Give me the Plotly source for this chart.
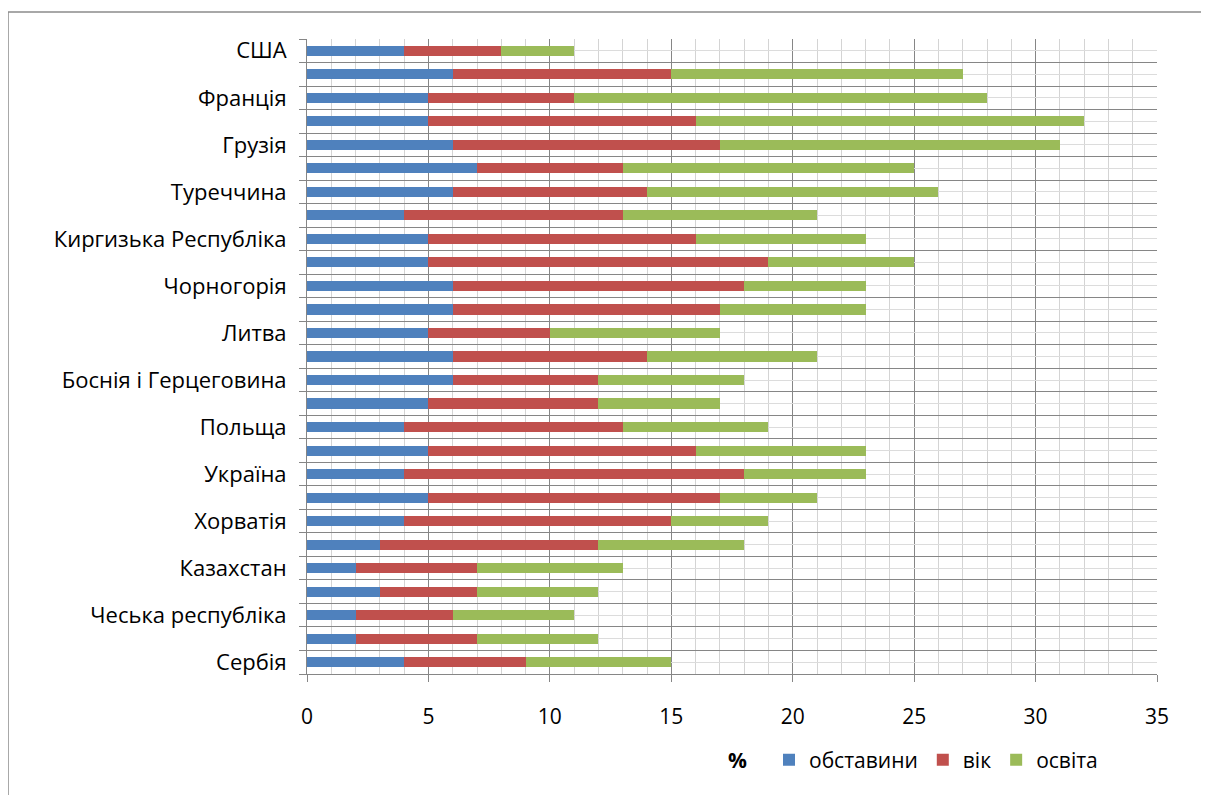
import plotly.graph_objects as go

countries = ["США", "", "Франція", "", "Грузія", "", "Туреччина", "",
             "Киргизька Республіка", "", "Чорногорія", "", "Литва", "",
             "Боснія і Герцеговина", "", "Польща", "", "Україна", "",
             "Хорватія", "", "Казахстан", "", "Чеська республіка", "", "Сербія"]
obstavyny = [4, 6, 5, 5, 6, 7, 6, 4, 5, 5, 6, 6, 5, 6, 6, 5, 4, 5, 4, 5, 4, 3, 2, 3, 2, 2, 4]
vik = [4, 9, 6, 11, 11, 6, 8, 9, 11, 14, 12, 11, 5, 8, 6, 7, 9, 11, 14, 12, 11, 9, 5, 4, 4, 5, 5]
osvita = [3, 12, 17, 16, 14, 12, 12, 8, 7, 6, 5, 6, 7, 7, 6, 5, 6, 7, 5, 4, 4, 6, 6, 5, 5, 5, 6]
x_ticks = [0, 5, 10, 15, 20, 25, 30, 35]

pos = list(range(len(countries)))
FONT = "Open Sans"

L, T, PW, PH = 299, 31, 850, 635
W, H = 1209, 795

fig = go.Figure()
for name, vals, col in [("обставини", obstavyny, "#4F81BD"),
                        ("вік", vik, "#C0504D"),
                        ("освіта", osvita, "#9BBB59")]:
    fig.add_trace(go.Bar(y=pos, x=vals, orientation="h", name=name,
                         marker=dict(color=col, line=dict(width=0)), width=0.43))

fig.update_layout(
    barmode="stack",
    width=W, height=H,
    margin=dict(l=L, r=W - L - PW, t=T, b=H - T - PH),
    paper_bgcolor="white", plot_bgcolor="white",
    font=dict(family=FONT, size=21, color="black"),
    showlegend=True,
    legend=dict(orientation="h", x=(761 - L) / PW, y=(T + PH - 752) / PH,
                xanchor="left", yanchor="middle",
                font=dict(size=21), traceorder="normal", itemwidth=30,
                bgcolor="rgba(0,0,0,0)"),
    xaxis=dict(range=[0, 35], tickvals=x_ticks, ticks="outside", ticklen=7,
               tickcolor="#868686", showgrid=True, gridcolor="#868686", gridwidth=1,
               showline=True, linecolor="#868686", zeroline=False,
               ticklabelstandoff=17,
               minor=dict(dtick=1, showgrid=True, gridcolor="#d4d4d4", ticks="")),
    yaxis=dict(range=[26.5, -0.5], tickvals=pos, ticktext=countries, ticks="",
               tickfont=dict(size=22),
               showgrid=True, gridcolor="#dcdcdc", gridwidth=1,
               showline=True, linecolor="#868686", zeroline=False,
               ticklabelstandoff=15,
               minor=dict(tickvals=[i - 0.5 for i in range(len(countries) + 1)],
                          ticks="outside", ticklen=7, tickcolor="#868686",
                          showgrid=True, gridcolor="#868686")),
)

fig.add_annotation(text="<b>%</b>", xref="paper", yref="paper",
                   x=(729 - L) / PW, y=(T + PH - 752) / PH, xanchor="center", yanchor="middle",
                   showarrow=False, font=dict(size=21, family=FONT))

fig.add_shape(type="rect", xref="paper", yref="paper",
              x0=(0 - L) / PW, x1=1.2, y0=-0.4, y1=(T + PH - 4) / PH,
              line=dict(color="#8c8c8c", width=1.5), layer="below")

fig.write_html("out.html")
